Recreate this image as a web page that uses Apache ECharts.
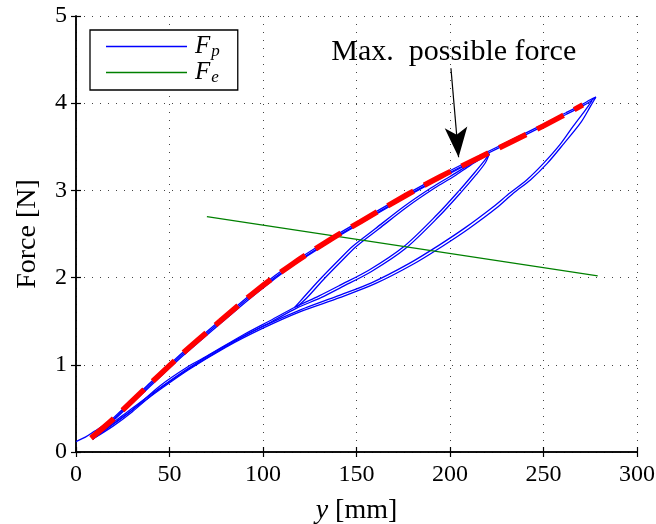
<!DOCTYPE html>
<html><head><meta charset="utf-8">
<script src="https://cdn.jsdelivr.net/npm/echarts@6/dist/echarts.min.js"></script>
<style>html,body{margin:0;padding:0;background:#fff}#c{width:656px;height:524px}</style>
</head><body><div id="c"></div>
<script>
const FONT = 'Liberation Serif';
const xTicks = [0, 50, 100, 150, 200, 250, 300];
const yTicks = [0, 1, 2, 3, 4, 5];

// F_p : upper (loading) branch, three passes
const upper1X = [0, 5, 10, 15, 20, 38, 57, 77, 97, 116, 137, 152, 177, 195, 216, 234, 250, 262, 271, 275, 278];
const upper1Y = [0.12, 0.17, 0.24, 0.31, 0.39, 0.76, 1.14, 1.51, 1.87, 2.17, 2.46, 2.65, 2.96, 3.17, 3.40, 3.59, 3.76, 3.89, 3.99, 4.04, 4.07];
const upper2X = [9, 14, 20, 38, 57, 77, 97, 116, 137, 152, 177, 195, 216, 234, 250, 262, 271, 275, 278];
const upper2Y = [0.15, 0.25, 0.37, 0.74, 1.12, 1.49, 1.85, 2.15, 2.44, 2.63, 2.94, 3.15, 3.38, 3.57, 3.74, 3.87, 3.97, 4.02, 4.07];
const upper3X = [9, 14, 20, 38, 57, 77, 97, 116, 137, 152, 177, 195, 216, 221];
const upper3Y = [0.15, 0.24, 0.36, 0.72, 1.10, 1.47, 1.83, 2.14, 2.43, 2.62, 2.93, 3.14, 3.37, 3.42];
// F_p : outer unloading branch, two passes
const outer1X = [278, 275, 270, 261, 252, 243, 234, 225, 210, 196, 180, 160, 141, 120, 100, 80, 60, 40, 25, 15, 9];
const outer1Y = [4.07, 3.96, 3.78, 3.54, 3.31, 3.12, 2.97, 2.80, 2.56, 2.36, 2.15, 1.93, 1.77, 1.61, 1.42, 1.20, 0.94, 0.64, 0.40, 0.25, 0.15];
const outer2X = [276, 272, 266, 259, 250, 241, 232, 223, 208, 194, 178, 158, 140, 120, 100, 80, 60, 40, 25, 15, 9];
const outer2Y = [4.03, 3.91, 3.74, 3.53, 3.31, 3.12, 2.97, 2.81, 2.57, 2.37, 2.16, 1.94, 1.79, 1.63, 1.44, 1.22, 0.96, 0.66, 0.42, 0.26, 0.15];
// F_p : inner loop rising branch, two passes
const innerUp1X = [117, 122, 130, 140, 148, 160, 175, 190, 200, 210, 216, 221];
const innerUp1Y = [1.66, 1.78, 1.97, 2.19, 2.36, 2.56, 2.81, 3.03, 3.16, 3.29, 3.36, 3.42];
const innerUp2X = [118, 124, 132, 142, 150, 162, 177, 192, 202, 211, 217, 221];
const innerUp2Y = [1.66, 1.78, 1.97, 2.19, 2.36, 2.56, 2.81, 3.03, 3.16, 3.29, 3.37, 3.42];
// F_p : inner loop falling branch (continuing to lower-left), two passes
const innerDown1X = [221, 218, 213, 205, 193, 175, 157, 141, 130, 117, 105, 90, 70, 60, 45, 30, 20, 9];
const innerDown1Y = [3.42, 3.33, 3.20, 3.00, 2.72, 2.35, 2.09, 1.91, 1.79, 1.66, 1.52, 1.35, 1.10, 0.98, 0.76, 0.48, 0.32, 0.15];
const innerDown2X = [221, 219, 214, 206, 194, 176, 158, 142, 131, 118, 105, 90, 70, 60, 45, 30, 20, 9];
const innerDown2Y = [3.42, 3.32, 3.18, 2.98, 2.70, 2.33, 2.07, 1.89, 1.77, 1.65, 1.50, 1.33, 1.08, 0.95, 0.73, 0.46, 0.30, 0.15];

// F_e
const feX = [70, 279];
const feY = [2.70, 2.02];

// Max. possible force (red dashed)
const maxX = [8, 20, 38, 57, 77, 97, 116, 137, 152, 177, 195, 216, 234, 250, 271];
const maxY = [0.16, 0.38, 0.75, 1.13, 1.50, 1.86, 2.16, 2.45, 2.64, 2.95, 3.16, 3.38, 3.57, 3.74, 3.98];

// annotation
const annotText = 'Max.  possible force';
const annotPos = [202, 4.59];
const arrowTail = [200.5, 4.40];
const arrowHead = [204.6, 3.38];

function pts(xs, ys) { return xs.map((x, i) => [x, ys[i]]); }

const blueBranches = [
  [upper1X, upper1Y], [upper2X, upper2Y], [upper3X, upper3Y],
  [outer1X, outer1Y], [outer2X, outer2Y],
  [innerUp1X, innerUp1Y], [innerUp2X, innerUp2Y],
  [innerDown1X, innerDown1Y], [innerDown2X, innerDown2Y]
];

const series = [];
blueBranches.forEach(b => series.push({
  name: 'Fp', type: 'line', data: pts(b[0], b[1]), symbol: 'none', smooth: 0.3,
  lineStyle: { color: '#0000ff', width: 1.3 }, itemStyle: { color: '#0000ff' }, z: 2, silent: true
}));
series.push({
  name: 'Fe', type: 'line', data: pts(feX, feY), symbol: 'none',
  lineStyle: { color: '#008000', width: 1.2 }, itemStyle: { color: '#008000' }, z: 3, silent: true
});
series.push({
  name: 'max', type: 'line', data: pts(maxX, maxY), symbol: 'none', smooth: 0.3,
  lineStyle: { color: '#ff0000', width: 5.5, type: [30, 12], cap: 'butt' }, itemStyle: { color: '#ff0000' }, z: 4, silent: true,
  markLine: {
    silent: true, animation: false, symbol: ['none', 'arrow'], symbolSize: [17, 30],
    lineStyle: { color: '#000', width: 1.2, type: 'solid' }, label: { show: false },
    data: [[{ coord: arrowTail }, { coord: arrowHead }]]
  },
  markPoint: {
    silent: true, animation: false,
    data: [{ coord: annotPos, symbol: 'rect', symbolSize: 1, itemStyle: { color: 'rgba(0,0,0,0)' },
      label: { show: true, position: 'inside', formatter: annotText, fontFamily: FONT, fontSize: 30, color: '#000' } }]
  }
});

const axisLineStyle = { color: '#000', width: 1.5 };
const tickStyle = { inside: true, length: 5, lineStyle: { color: '#000', width: 1.2 } };
const gridLine = { show: true, lineStyle: { color: '#444', width: 1, type: [1, 7] } };

const option = {
  animation: false,
  backgroundColor: '#fff',
  grid: { left: 76, right: 19, top: 16, bottom: 72, containLabel: false, outerBoundsMode: 'none' },
  legend: {
    data: ['Fp', 'Fe'], orient: 'vertical', left: 90, top: 30, padding: [4, 18, 4, 16],
    itemGap: 0, itemWidth: 81, itemHeight: 1.5, icon: 'rect', selectedMode: false,
    borderColor: '#000', borderWidth: 1.3, borderRadius: 0, backgroundColor: '#fff',
    formatter: n => n === 'Fp' ? '{i|F}{s|p}' : '{i|F}{s|e}',
    textStyle: {
      padding: [0, 0, 0, 3],
      rich: {
        i: { fontFamily: FONT, fontStyle: 'italic', fontSize: 25, color: '#000' },
        s: { fontFamily: FONT, fontStyle: 'italic', fontSize: 17, color: '#000', padding: [10, 0, 0, 1] }
      }
    }
  },
  xAxis: [{
    type: 'value', min: xTicks[0], max: xTicks[xTicks.length - 1], interval: 50, position: 'bottom',
    name: '{i|y} [mm]', nameLocation: 'middle', nameGap: 45,
    nameTextStyle: { fontFamily: FONT, fontSize: 28, color: '#000', rich: { i: { fontFamily: FONT, fontStyle: 'italic', fontSize: 28, color: '#000' } } },
    axisLine: { lineStyle: axisLineStyle }, axisTick: tickStyle,
    axisLabel: { fontFamily: FONT, fontSize: 24, color: '#000', margin: 11 },
    splitLine: gridLine
  }, {
    type: 'value', min: xTicks[0], max: xTicks[xTicks.length - 1], interval: 50, position: 'top',
    axisLine: { lineStyle: axisLineStyle }, axisTick: tickStyle, axisLabel: { show: false }, splitLine: { show: false }
  }],
  yAxis: [{
    type: 'value', min: yTicks[0], max: yTicks[yTicks.length - 1], interval: 1, position: 'left',
    name: 'Force [N]', nameLocation: 'middle', nameGap: 34, nameRotate: 90,
    nameTextStyle: { fontFamily: FONT, fontSize: 28, color: '#000' },
    axisLine: { lineStyle: axisLineStyle }, axisTick: tickStyle,
    axisLabel: { fontFamily: FONT, fontSize: 24, color: '#000', margin: 9 },
    splitLine: gridLine
  }, {
    type: 'value', min: yTicks[0], max: yTicks[yTicks.length - 1], interval: 1, position: 'right',
    axisLine: { lineStyle: axisLineStyle }, axisTick: tickStyle, axisLabel: { show: false }, splitLine: { show: false }
  }],
  series: series
};

const chart = echarts.init(document.getElementById('c'), null, { renderer: 'canvas' });
chart.setOption(option);
</script></body></html>
